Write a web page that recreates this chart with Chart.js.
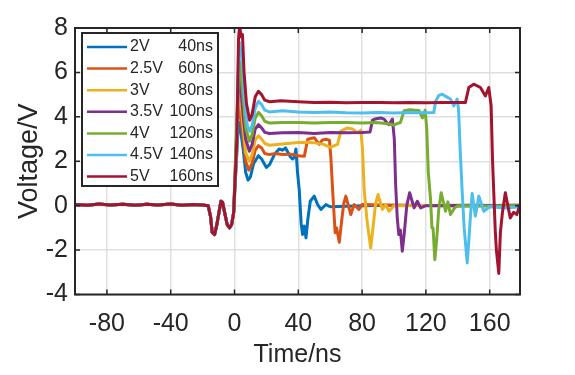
<!DOCTYPE html>
<html>
<head>
<meta charset="utf-8">
<script src="https://cdn.jsdelivr.net/npm/chart.js@4.4.1/dist/chart.umd.min.js"></script>
<style>
    html, body { margin: 0; padding: 0; background: #ffffff; }
    canvas { display: block; }
</style>
</head>
<body>
<canvas id="chart" width="575" height="375"></canvas>
<script>
// tick values
const xTicks = [-80, -40, 0, 40, 80, 120, 160];
const yTicks = [-4, -2, 0, 2, 4, 6, 8];

// legend text
const amplitudes = ['2V', '2.5V', '3V', '3.5V', '4V', '4.5V', '5V'];
const pulseWidths = ['40ns', '60ns', '80ns', '100ns', '120ns', '140ns', '160ns'];
const colors = ['#0072BD', '#D95319', '#EDB120', '#7E2F8E', '#77AC30', '#4DBEEE', '#A2142F'];

// common part before the trigger, [time ns, voltage V]
const preTrigger = [[-100, 0.05], [-92, 0.02], [-85, 0.07], [-78, 0.03], [-70, 0.06], [-62, 0.02], [-55, 0.06],
    [-48, 0.03], [-40, 0.07], [-33, 0.02], [-26, 0.05], [-20, 0.03], [-16.5, 0.0], [-15, -0.5], [-14, -1.2],
    [-12.5, -1.3], [-11.2, -0.9], [-10.2, -0.5], [-8.5, 0.2], [-7.5, 0.15], [-6.2, -0.3], [-4.6, -0.85],
    [-3.1, -1.0], [-1.8, -0.85], [-0.5, -0.3]];

const pulse2V = [[1.2, 2.0], [2.3, 3.5], [3, 3.75], [4, 3.3], [5.5, 2.5], [7, 1.5], [8.5, 1.15], [10, 1.3],
    [12, 1.9], [15, 2.25], [17, 2.1], [20, 1.72], [22, 1.85], [25, 2.3], [28, 2.55], [30, 2.5], [32, 2.6],
    [35, 2.2], [36.5, 2.1], [37.5, 2.2], [38.5, 2.55], [39.5, 1.5], [40.6, 0.7], [41.8, -0.8], [42.7, -1.3],
    [43.8, -0.92], [44.8, -1.45], [46, -0.6], [47.5, 0.2], [50, 0.43], [52.1, 0.05], [54.2, -0.17],
    [57.3, 0.05], [60, -0.05], [80, 0.0], [100, 0.02], [140, 0.0], [179, 0.02]];

const pulse2p5V = [[1.3, 2.5], [2.4, 4.2], [3.1, 4.45], [4.2, 3.9], [5.5, 3.0], [7, 2.0], [9, 1.6], [11, 1.9],
    [13, 2.5], [15, 2.7], [17, 2.6], [19, 2.35], [22, 2.3], [26, 2.35], [30, 2.3], [35, 2.32], [40, 2.25],
    [43.8, 2.23], [45.9, 2.99], [50, 3.06], [53.1, 2.76], [55, 2.95], [57.3, 2.99], [59.5, 2.95], [60.4, 2.2],
    [61.5, 0.73], [63.1, -1.22], [64, -1.0], [65.7, -1.65], [67, -0.8], [68.5, 0.1], [69.8, 0.43],
    [72.9, -0.4], [75, 0.05], [78, -0.17], [80, 0.05], [100, 0.02], [140, 0.0], [179, 0.02]];

const pulse3V = [[1.3, 3.0], [2.4, 4.9], [3.1, 5.15], [4.2, 4.5], [5.5, 3.5], [7, 2.4], [9.2, 2.0], [11, 2.3],
    [13, 2.95], [15, 3.15], [17, 3.0], [19, 2.8], [22, 2.72], [30, 2.78], [40, 2.84], [48, 2.85], [56, 2.76],
    [60, 2.63], [64.6, 2.76], [66.7, 3.36], [70.8, 3.5], [74, 3.45], [77.1, 3.29], [79.2, 3.4], [80.3, 2.5],
    [81.3, 0.73], [83, -0.6], [83.8, -1.07], [85.4, -1.9], [86.8, -1.0], [88.5, 0.1], [90, 0.5],
    [92.7, -0.17], [94.8, 0.05], [96.9, -0.25], [100, 0.0], [140, 0.02], [179, 0.0]];

const pulse3p5V = [[1.3, 3.2], [2.5, 5.5], [3.2, 5.8], [4.2, 5.1], [5.5, 4.0], [7, 3.0], [9.3, 2.45], [11, 2.75],
    [13, 3.45], [15, 3.65], [17, 3.5], [19, 3.3], [22, 3.25], [30, 3.28], [40, 3.3], [50, 3.25], [60, 3.3],
    [70, 3.28], [80, 3.3], [85, 3.32], [86.5, 3.85], [88, 3.9], [91.7, 3.95], [93.8, 3.9], [95.8, 3.7],
    [97, 3.65], [99, 3.9], [100.2, 3.0], [101, 1.0], [102, -0.5], [103, -1.3], [104, -1.1], [105.2, -2.05],
    [106.5, -1.2], [108, 0.0], [109.8, 0.58], [112.6, -0.1], [114.6, 0.2], [116.7, -0.1], [120, 0.0],
    [150, 0.02], [179, 0.0]];

const pulse4V = [[1.3, 3.6], [2.5, 6.1], [3.2, 6.5], [4.2, 5.8], [5.5, 4.8], [7, 3.5], [9.4, 2.9], [11, 3.2],
    [13, 3.95], [15, 4.2], [17, 4.05], [19, 3.8], [22, 3.72], [30, 3.75], [40, 3.74], [50, 3.72], [60, 3.75],
    [70, 3.74], [80, 3.72], [88.6, 3.74], [95, 3.7], [98, 3.67], [100, 3.62], [102, 3.7], [104, 3.74],
    [106.3, 4.27], [110, 4.32], [113, 4.3], [115.7, 4.28], [117.8, 3.95], [119.5, 4.3], [120.5, 3.5],
    [121.5, 1.5], [122.9, 0.3], [123.8, -1.0], [124.5, -1.0], [125.6, -2.43], [126.8, -1.5], [128, -0.2],
    [129.6, 0.58], [132.3, -0.25], [133.8, 0.17], [135.4, -0.4], [138, -0.1], [140, 0.0], [160, -0.02],
    [179, 0.0]];

const pulse4p5V = [[1.5, 2.5], [2.5, 6.8], [3.2, 7.35], [4.2, 6.8], [5.2, 6.2], [6.5, 4.6], [8, 3.6],
    [9.5, 3.35], [11, 3.6], [13, 4.4], [15, 4.7], [17, 4.55], [19, 4.3], [22, 4.22], [30, 4.27], [40, 4.22],
    [50, 4.2], [60, 4.22], [70, 4.18], [80, 4.17], [90, 4.19], [100, 4.17], [110, 4.19], [120, 4.18],
    [125, 4.2], [126.1, 4.7], [128, 4.95], [130.2, 5.02], [133, 4.9], [135.4, 4.8], [137.5, 4.49],
    [139.6, 4.8], [140.5, 4.3], [141.5, 2.5], [142.7, 0.7], [144, -1.0], [145.9, -2.58], [147, -1.5],
    [148, -0.4], [149, 0.55], [151, -0.47], [153.2, 0.43], [156.3, -0.25], [160, -0.05], [170, -0.1],
    [179, -0.05]];

const pulse5V = [[1.5, 3.0], [2.5, 7.5], [3.2, 8.1], [4.2, 7.6], [5, 7.7], [6, 6.0], [7.5, 4.6], [9.5, 3.85],
    [11, 4.1], [13, 4.9], [15, 5.15], [17, 5.0], [19, 4.75], [22, 4.68], [29, 4.72], [40, 4.68], [50, 4.65],
    [60, 4.66], [70, 4.63], [80, 4.64], [91.7, 4.65], [100, 4.63], [110, 4.64], [120, 4.63], [130, 4.64],
    [139.6, 4.65], [144.8, 4.65], [146.9, 5.32], [150, 5.47], [154.2, 5.32], [157.3, 4.94], [159.4, 5.32],
    [160.9, 4.5], [161.8, 2.0], [162.5, 0.7], [163.5, -1.15], [164.2, -2.0], [165.7, -3.05], [166.7, -1.2],
    [168, -0.3], [169.8, 0.58], [172.9, -0.55], [175, -0.3], [177, -0.4], [179, 0.05]];

const pulses = [pulse2V, pulse2p5V, pulse3V, pulse3p5V, pulse4V, pulse4p5V, pulse5V];

const FONT = 'Liberation Sans, Arial, Helvetica, sans-serif';
const AXIS_COLOR = '#262626';
const TICK_LEN = 5;

// MATLAB style box with inward ticks on all four sides
const boxPlugin = {
    id: 'box',
    afterDatasetsDraw(chart) {
        const { ctx, chartArea: a, scales } = chart;
        ctx.save();
        ctx.strokeStyle = AXIS_COLOR;
        ctx.lineWidth = 1.5;
        ctx.beginPath();
        xTicks.forEach(v => {
            const px = scales.x.getPixelForValue(v);
            ctx.moveTo(px, a.bottom);
            ctx.lineTo(px, a.bottom - TICK_LEN);
            ctx.moveTo(px, a.top);
            ctx.lineTo(px, a.top + TICK_LEN);
        });
        yTicks.forEach(v => {
            const py = scales.y.getPixelForValue(v);
            ctx.moveTo(a.left, py);
            ctx.lineTo(a.left + TICK_LEN, py);
            ctx.moveTo(a.right, py);
            ctx.lineTo(a.right - TICK_LEN, py);
        });
        ctx.stroke();
        ctx.lineWidth = 2;
        ctx.strokeRect(a.left, a.top, a.right - a.left, a.bottom - a.top);
        ctx.restore();
    },
};

// legend box in the upper left corner
const legendPlugin = {
    id: 'cornerLegend',
    afterDraw(chart) {
        const { ctx, chartArea: a } = chart;
        const left = a.left + 7;
        const top = a.top + 5;
        const width = 136;
        const height = 153;
        const rowHeight = 21.6;

        ctx.save();
        ctx.fillStyle = '#ffffff';
        ctx.fillRect(left, top, width, height);
        ctx.strokeStyle = AXIS_COLOR;
        ctx.lineWidth = 2;
        ctx.strokeRect(left, top, width, height);

        ctx.font = `16px ${FONT}`;
        ctx.textBaseline = 'middle';
        amplitudes.forEach((label, i) => {
            const y = top + 14 + i * rowHeight;
            ctx.strokeStyle = colors[i];
            ctx.lineWidth = 2.5;
            ctx.beginPath();
            ctx.moveTo(left + 5, y);
            ctx.lineTo(left + 45, y);
            ctx.stroke();

            ctx.fillStyle = AXIS_COLOR;
            ctx.textAlign = 'left';
            ctx.fillText(label, left + 48, y);
            ctx.textAlign = 'right';
            ctx.fillText(pulseWidths[i], left + 131, y);
        });
        ctx.restore();
    },
};

const datasets = pulses.map((pulse, i) => ({
    label: `${amplitudes[i]} ${pulseWidths[i]}`,
    data: preTrigger.concat(pulse),
    borderColor: colors[i],
    borderWidth: 3,
    borderJoinStyle: 'round',
    pointRadius: 0,
    tension: 0,
    fill: false,
    order: pulses.length - i,
}));

new Chart(document.getElementById('chart'), {
    type: 'line',
    data: { datasets },
    options: {
        responsive: false,
        animation: false,
        events: [],
        layout: { padding: { top: 28, right: 55, left: 0, bottom: 0 } },
        plugins: {
            legend: { display: false },
            tooltip: { enabled: false },
        },
        scales: {
            x: {
                type: 'linear',
                min: -100,
                max: 179,
                afterBuildTicks: scale => { scale.ticks = xTicks.map(value => ({ value })); },
                afterFit: scale => { scale.height = 80.5; },
                grid: { color: '#dfdfdf', lineWidth: 1.5, drawTicks: false },
                border: { display: false },
                ticks: { padding: 15, color: AXIS_COLOR, maxRotation: 0, font: { family: FONT, size: 25 } },
                title: {
                    display: true,
                    text: 'Time/ns',
                    color: AXIS_COLOR,
                    font: { family: FONT, size: 25 },
                    padding: { top: 0, bottom: 5 },
                },
            },
            y: {
                type: 'linear',
                min: -4,
                max: 8,
                afterBuildTicks: scale => { scale.ticks = yTicks.map(value => ({ value })); },
                afterFit: scale => { scale.width = 75; },
                grid: { color: '#dfdfdf', lineWidth: 1.5, drawTicks: false },
                border: { display: false },
                ticks: { padding: 7, color: AXIS_COLOR, font: { family: FONT, size: 25 } },
                title: {
                    display: true,
                    text: 'Voltage/V',
                    color: AXIS_COLOR,
                    font: { family: FONT, size: 27 },
                    padding: { top: 13, bottom: 0 },
                },
            },
        },
    },
    plugins: [boxPlugin, legendPlugin],
});
</script>
</body>
</html>
